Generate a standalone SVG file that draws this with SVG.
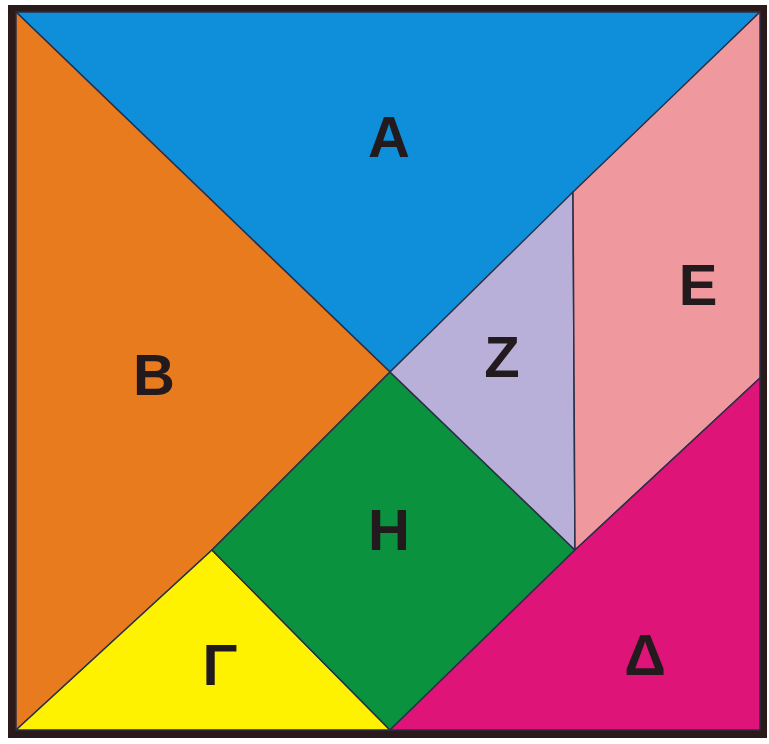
<svg xmlns="http://www.w3.org/2000/svg" width="769" height="744" viewBox="0 0 769 744">
<style>
.p{stroke:#2b2f48;stroke-width:1.5;stroke-linejoin:round}
.t{font-family:"Liberation Sans",Arial,sans-serif;font-weight:bold;font-size:58px;fill:#221a1c;text-anchor:middle}
</style>
<rect x="0" y="0" width="769" height="744" fill="#ffffff"/>
<rect x="8" y="5" width="759" height="733" fill="#2a1a1a"/>
<g id="A"><polygon class="p" points="16,12 760,12 390,372" fill="#0f8fd9"/><text class="t" x="389" y="157">Α</text></g>
<g id="B"><polygon class="p" points="16,12 390,372 212,550 16,730" fill="#e97b1f" stroke="#e04a1e"/><text class="t" x="154" y="395">Β</text></g>
<g id="Gamma"><polygon class="p" points="212,550 390,730 16,730" fill="#fff200" stroke="#e04a1e"/><text class="t" x="220" y="685">Γ</text></g>
<g id="H"><polygon class="p" points="390,372 575,550 390,730 212,550" fill="#0a923f"/><text class="t" x="389" y="550">Η</text></g>
<g id="Z"><polygon class="p" points="390,372 573,192 575,550" fill="#b8b0d8"/><text class="t" x="502" y="377">Ζ</text></g>
<g id="E"><polygon class="p" points="573,192 760,12 760,378 575,550" fill="#ef999f"/><text class="t" x="698" y="305">Ε</text></g>
<g id="Delta"><polygon class="p" points="760,378 760,730 390,730 575,550" fill="#de1479"/><text class="t" x="645" y="675">Δ</text></g>
<g id="connectors"></g>
</svg>
